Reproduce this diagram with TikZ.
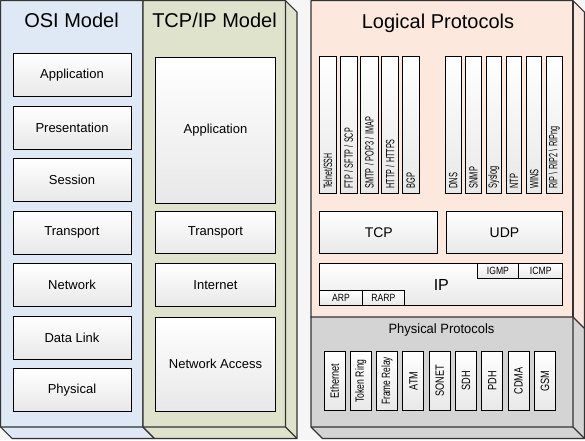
\documentclass[tikz,border=0pt]{standalone}
\usepackage{fontspec}
\setmainfont{Liberation Sans}
\usepackage{graphicx}
\definecolor{OSIBlue}{RGB}{222,233,245}
\definecolor{TCPGreen}{RGB}{223,227,204}
\definecolor{LogPeach}{RGB}{252,232,220}
\definecolor{PhysGray}{RGB}{212,212,212}
\definecolor{PanelLine}{RGB}{51,51,51}
\definecolor{BoxShade}{RGB}{232,232,232}
\definecolor{BackGray}{RGB}{246,246,246}

\begin{document}
\begin{tikzpicture}[x=1pt,y=-1pt,
    panel/.style={draw=PanelLine,line width=1.1pt,line join=round},
    paneltitle/.style={anchor=base,font=\fontsize{20}{22}\selectfont},
    layerbox/.style={draw=black,line width=1pt,top color=white,bottom color=BoxShade,
      inner sep=0pt,anchor=north west,font=\fontsize{13}{15}\selectfont},
    smallbox/.style={draw=black,line width=0.9pt,top color=white,bottom color=BoxShade,
      inner sep=0pt,anchor=north west,minimum height=15pt,font=\fontsize{10.5}{12}\selectfont},
    protobox/.style={draw=black,line width=1pt,top color=white,bottom color=BoxShade,
      rotate=90,inner ysep=0pt,inner xsep=4.8pt,text width=127pt,align=left,
      minimum height=17.3pt,font=\fontsize{12}{13}\selectfont},
    protonarrow/.style={protobox,minimum height=15.3pt},
    physbox/.style={draw=black,line width=1pt,top color=white,bottom color=BoxShade,
      rotate=90,inner sep=0pt,minimum width=59.7pt,minimum height=21pt,
      font=\fontsize{12}{13}\selectfont}]
  \useasboundingbox (0,0) rectangle (585,440);
  \fill[BackGray] (0,0) rectangle (585,440);

  % panels
  \filldraw[panel,fill=OSIBlue] (0.6,0.6) -- (143,0.6) -- (154.5,12.1) -- (154.5,438.5)
    -- (12.1,438.5) -- (0.6,427) -- cycle;
  \draw[panel] (143,0.6) -- (143,427) -- (0.6,427) (143,427) -- (154.5,438.5);
  \filldraw[panel,fill=TCPGreen] (143,0.6) -- (285.5,0.6) -- (297,12.1) -- (297,438.5)
    -- (154.5,438.5) -- (143,427) -- cycle;
  \draw[panel] (285.5,0.6) -- (285.5,427) -- (143,427) (285.5,427) -- (297,438.5);
  \filldraw[panel,fill=LogPeach] (311,0.6) -- (573,0.6) -- (584.5,12.1) -- (584.5,328.5)
    -- (322.5,328.5) -- (311,317) -- cycle;
  \draw[panel] (573,0.6) -- (573,317);
  \filldraw[panel,fill=PhysGray] (311,317) -- (573,317) -- (584.5,328.5) -- (584.5,438.5)
    -- (322.5,438.5) -- (311,427) -- cycle;
  \draw[panel] (573,317) -- (573,427) -- (311,427) (573,427) -- (584.5,438.5);

  \node[paneltitle] (osititle) at (71.5,27.5) {OSI Model};
  \node[paneltitle] (tcpiptitle) at (214.5,27.5) {TCP/IP Model};
  \node[paneltitle] (logtitle) at (438,28.3) {Logical Protocols};
  \node[anchor=base,font=\fontsize{13.5}{15}\selectfont] (phystitle) at (441.5,333.5) {\scalebox{0.96}[1]{Physical Protocols}};

  % OSI layers
  \node[layerbox,minimum width=118pt,minimum height=43pt] (osiapp) at (12.5,53) {Application};
  \node[layerbox,minimum width=118pt,minimum height=43pt] (osipres) at (12.5,105.5) {Presentation};
  \node[layerbox,minimum width=118pt,minimum height=43pt] (osisess) at (12.5,158) {Session};
  \node[layerbox,minimum width=118pt,minimum height=43pt] (ositrans) at (12.5,210.5) {Transport};
  \node[layerbox,minimum width=118pt,minimum height=43pt] (osinet) at (12.5,263) {Network};
  \node[layerbox,minimum width=118pt,minimum height=43pt] (osilink) at (12.5,315.5) {Data Link};
  \node[layerbox,minimum width=118pt,minimum height=43pt] (osiphys) at (12.5,368) {Physical};

  % TCP/IP layers
  \node[layerbox,minimum width=120pt,minimum height=146pt] (tcpapp) at (155,57) {Application};
  \node[layerbox,minimum width=120pt,minimum height=42.5pt] (tcptrans) at (155,210.8) {Transport};
  \node[layerbox,minimum width=120pt,minimum height=42.5pt] (tcpinet) at (155,263.3) {Internet};
  \node[layerbox,minimum width=120pt,minimum height=94pt] (tcpnetacc) at (155,316.7) {Network Access};

  % application protocols
  \node[protobox] (telnet) at (327.95,125) {\scalebox{0.58}[1]{Telnet/SSH}};
  \node[protobox] (ftp) at (348.65,125) {\scalebox{0.6}[1]{FTP / SFTP / SCP}};
  \node[protobox] (smtp) at (369.35,125) {\scalebox{0.61}[1]{SMTP / POP3 / IMAP}};
  \node[protobox] (http) at (390.05,125) {\scalebox{0.6}[1]{HTTP / HTTPS}};
  \node[protobox] (bgp) at (410.75,125) {\scalebox{0.62}[1]{BGP}};
  \node[protonarrow] (dns) at (453.35,125) {\scalebox{0.62}[1]{DNS}};
  \node[protonarrow] (snmp) at (473.55,125) {\scalebox{0.62}[1]{SNMP}};
  \node[protonarrow] (syslog) at (493.75,125) {\scalebox{0.62}[1]{Syslog}};
  \node[protonarrow] (ntp) at (513.95,125) {\scalebox{0.62}[1]{NTP}};
  \node[protonarrow] (wins) at (534.15,125) {\scalebox{0.62}[1]{WINS}};
  \node[protonarrow] (rip) at (554.35,125) {\scalebox{0.6}[1]{RIP \textbackslash{} RIP2 \textbackslash{} RIPng}};

  % transport and internet
  \node[layerbox,minimum width=118pt,minimum height=42.3pt,font=\fontsize{14}{16}\selectfont] (tcp) at (319.3,211) {TCP};
  \node[layerbox,minimum width=116.6pt,minimum height=42.3pt,font=\fontsize{14}{16}\selectfont] (udp) at (445.7,211) {UDP};
  \node[layerbox,minimum width=243pt,minimum height=41.7pt,font=\fontsize{16}{18}\selectfont] (ip) at (319.3,263.3) {IP};
  \node[smallbox,minimum width=41.6pt] (igmp) at (476.7,263.3) {\scalebox{0.82}[1]{IGMP}};
  \node[smallbox,minimum width=44pt] (icmp) at (518.3,263.3) {\scalebox{0.82}[1]{ICMP}};
  \node[smallbox,minimum width=42.4pt] (arp) at (319.3,290) {\scalebox{0.82}[1]{ARP}};
  \node[smallbox,minimum width=42.6pt] (rarp) at (361.7,290) {\scalebox{0.82}[1]{RARP}};

  % physical protocols
  \node[physbox] (ethernet) at (334.5,380.85) {\scalebox{0.76}[1]{Ethernet}};
  \node[physbox] (tokenring) at (360.8,380.85) {\scalebox{0.72}[1]{Token Ring}};
  \node[physbox] (framerelay) at (387.1,380.85) {\scalebox{0.7}[1]{Frame Relay}};
  \node[physbox] (atm) at (413.4,380.85) {\scalebox{0.76}[1]{ATM}};
  \node[physbox] (sonet) at (439.7,380.85) {\scalebox{0.76}[1]{SONET}};
  \node[physbox] (sdh) at (466,380.85) {\scalebox{0.76}[1]{SDH}};
  \node[physbox] (pdh) at (492.3,380.85) {\scalebox{0.76}[1]{PDH}};
  \node[physbox] (cdma) at (518.6,380.85) {\scalebox{0.76}[1]{CDMA}};
  \node[physbox] (gsm) at (544.9,380.85) {\scalebox{0.76}[1]{GSM}};
\end{tikzpicture}
\end{document}
